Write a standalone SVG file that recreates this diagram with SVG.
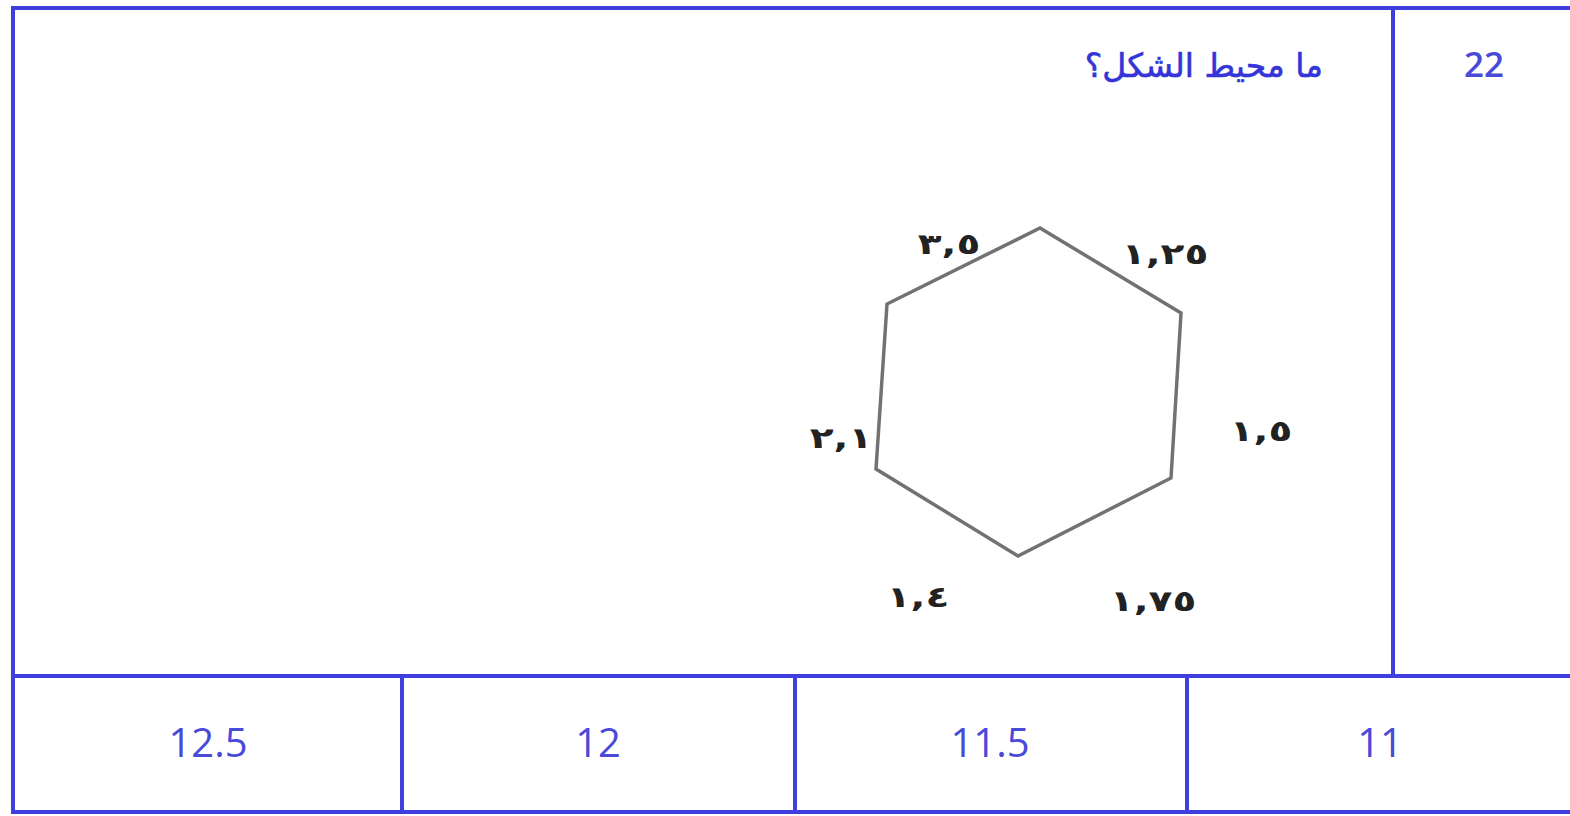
<svg xmlns="http://www.w3.org/2000/svg" width="1570" height="816" viewBox="0 0 1570 816">
<style>
.grid{stroke:#3f3fe0;stroke-width:4;fill:none;stroke-linecap:square}
.num{font-family:"Open Sans","Noto Sans",sans-serif;fill:#4a4ad8;text-anchor:middle}
.q{font-family:"DejaVu Sans","Noto Sans",sans-serif;fill:#3434d8;font-size:33px;stroke:#3434d8;stroke-width:0.6}
.lab{font-family:"DejaVu Sans",sans-serif;font-weight:bold;fill:#222;font-size:29px;text-anchor:middle}
.hex{fill:none;stroke:#727272;stroke-width:3.5;stroke-linejoin:miter}
</style>
<rect width="1570" height="816" fill="#fff"/>
<g id="table">
<line class="grid" x1="13" y1="8" x2="1568" y2="8"/>
<line class="grid" x1="13" y1="8" x2="13" y2="812"/>
<line class="grid" x1="13" y1="676" x2="1568" y2="676"/>
<line class="grid" x1="13" y1="812" x2="1568" y2="812"/>
<line class="grid" x1="1393" y1="8" x2="1393" y2="676"/>
<line class="grid" x1="402" y1="676" x2="402" y2="812"/>
<line class="grid" x1="795" y1="676" x2="795" y2="812"/>
<line class="grid" x1="1187" y1="676" x2="1187" y2="812"/>
</g>
<g id="question-number"><text class="num" x="1484" y="77" font-size="35" font-weight="600">22</text></g>
<g id="question"><text class="q" x="1323" y="77" text-anchor="end">ما محيط الشكل؟</text></g>
<g id="hexagon">
<polygon class="hex" points="1040,228 1181,313 1171,478 1018,556 876,469 887,304"/>
<text class="lab" transform="translate(949,254) scale(1.35,1)">٣,٥</text>
<text class="lab" transform="translate(1165,264) scale(1.35,1)">١,٢٥</text>
<text class="lab" transform="translate(1261,441) scale(1.35,1)">١,٥</text>
<text class="lab" transform="translate(841,448) scale(1.35,1)">٢,١</text>
<text class="lab" transform="translate(918,607) scale(1.35,1)">١,٤</text>
<text class="lab" transform="translate(1153,611) scale(1.35,1)">١,٧٥</text>
</g>
<g id="answers">
<text class="num" x="208" y="757" font-size="40">12.5</text>
<text class="num" x="598" y="757" font-size="40">12</text>
<text class="num" x="990" y="757" font-size="40">11.5</text>
<text class="num" x="1380" y="757" font-size="40">11</text>
</g>
</svg>
